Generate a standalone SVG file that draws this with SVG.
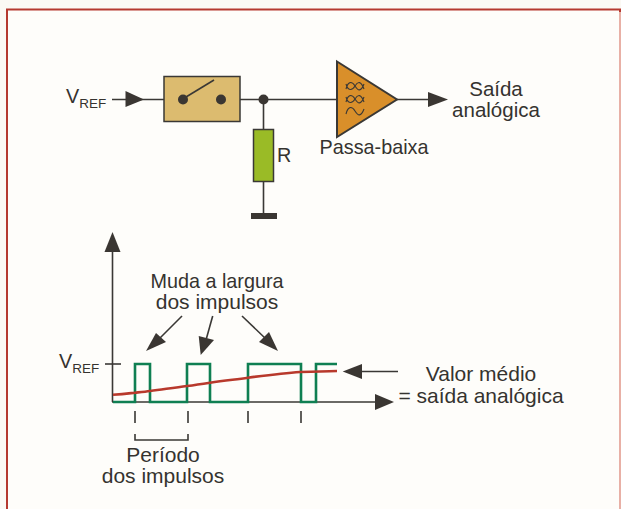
<svg xmlns="http://www.w3.org/2000/svg" width="621" height="509" viewBox="0 0 621 509">
<style>
text{font-family:"Liberation Sans",Arial,sans-serif;font-size:19.800px;fill:#35332f}
.m{text-anchor:middle}
.l{font-size:21px}
.o{font-size:20.500px}
.sub{font-size:13.500px}
.w{fill:none;stroke:#3a3835;stroke-width:1.600}
.dot{fill:#3a3632}
.head{fill:#3a3632;stroke:none}
.f{fill:none;stroke:#3a3835;stroke-width:1.100}
</style>
<rect width="621" height="509" fill="#fbf9f4"/>
<path d="M7 509V9.500H620V509" fill="#fefdfa" stroke="#b5392f" stroke-width="2"/>
<path d="M620 12V509" stroke="#e8b0a6" stroke-width="2"/>
<g id="connectors">
<path class="w" d="M112 99.500H178M226 99.500H336M263.500 99.500V130M263.500 181V214"/>
<path class="head" d="M125.500 91L144 99.500L125.500 107Z"/>
<path class="w" d="M397 99.500H430"/>
<path class="head" d="M428 92L448 99.500L428 107Z"/>
<path class="w" d="M112.500 402V245"/>
<path class="head" d="M112.500 232L120.500 252H104.500Z"/>
<path class="w" d="M112 402H378"/>
<path class="head" d="M375 394L394 402L375 410Z"/>
<path class="w" d="M105 364H121"/>
<path class="w" d="M182 316L160 338"/>
<path class="head" d="M146 351L156 333L166 342Z"/>
<path class="w" d="M212.700 316L206 340"/>
<path class="head" d="M200.700 355L198.700 336L214 340Z"/>
<path class="w" d="M242 316L266 339"/>
<path class="head" d="M278 351L259 342L269 332Z"/>
<path class="w" d="M398 371.500H360"/>
<path class="head" d="M342.700 371.500L362 364V379Z"/>
<path class="w" d="M135 411V423M188 411V423M248 411V423M301 411V423"/>
<path class="w" d="M135 434V440H188V434"/>
<path d="M113 402H135V364H150V402H187V364H210V402H248V364H301V402H316V364H337" fill="none" stroke="#0f7f52" stroke-width="2.600"/>
<path d="M113 394.700C125 394 130 393.200 135 392.700C140 392.200 145 391.800 150 391C165 389 175 387.500 187 386C195 385 203 383.800 210 382.700C225 380.500 235 379.500 248 377.700C265 375.500 285 373 300 372C315 371.500 325 371.200 337 371" fill="none" stroke="#b8392c" stroke-width="2.600"/>
</g>
<g id="vref-input"><text x="66" y="103">V<tspan class="sub" dy="5">REF</tspan></text></g>
<g id="switch">
<rect x="164" y="76.500" width="76" height="45" fill="#dcbb6f" stroke="#3a3835" stroke-width="1.500"/>
<circle class="dot" cx="183" cy="99.500" r="5"/><circle class="dot" cx="221" cy="99.500" r="5"/>
<path class="w" d="M186 97L214 80"/>
</g>
<g id="junction"><circle class="dot" cx="263.500" cy="99.500" r="5"/></g>
<g id="resistor">
<rect x="253.500" y="129.500" width="20" height="52" fill="#9abb26" stroke="#3a3835" stroke-width="1.500"/>
<text x="277" y="162">R</text>
</g>
<g id="ground"><rect x="251" y="213" width="26" height="6" fill="#3a3632"/></g>
<g id="low-pass">
<path d="M337 61.500L397 99.500L337 137Z" fill="#d98f2a" stroke="#3a3835" stroke-width="2"/>
<path class="f" d="M346 89C348 81 352 81 355 86C358 91 361 92 364 84M346 84C348 91 352 91 355 86C358 81 361 81 364 89"/>
<path class="f" d="M346 102C348 94 352 94 355 99C358 104 361 105 364 97M346 97C348 104 352 104 355 99C358 94 361 94 364 102"/>
<path class="f" d="M346 114C348 106 352 106 355 111C358 116 361 117 364 109"/>
<text class="m" x="374" y="154">Passa-baixa</text>
</g>
<g id="output-label"><text class="m o" x="496" y="96">Saída</text><text class="m o" x="496" y="117">analógica</text></g>
<g id="chart-labels">
<text x="59" y="368">V<tspan class="sub" dy="5">REF</tspan></text>
<text class="m" x="217" y="288">Muda a largura</text>
<text class="m l" x="217" y="309">dos impulsos</text>
<text class="m l" x="163" y="462">Período</text>
<text class="m l" x="163" y="483">dos impulsos</text>
<text class="m l" x="481" y="381">Valor médio</text>
<text class="m l" x="481" y="403">= saída analógica</text>
</g>
</svg>
